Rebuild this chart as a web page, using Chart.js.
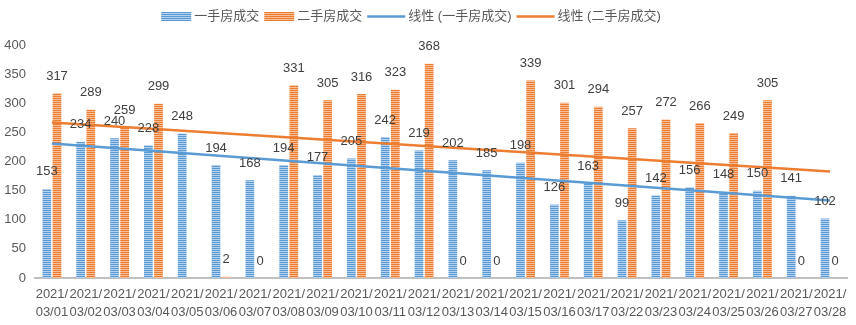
<!DOCTYPE html>
<html>
<head>
<meta charset="utf-8">
<script src="https://cdn.jsdelivr.net/npm/chart.js@4.4.0/dist/chart.umd.min.js"></script>
<style>
  html, body { margin: 0; padding: 0; background: #fff; }
  #wrap { position: relative; width: 856px; height: 325px; }
</style>
</head>
<body>
<div id="wrap"><canvas id="chart"></canvas></div>
<script>
// 数据
const dates = [
  '2021/03/01', '2021/03/02', '2021/03/03', '2021/03/04', '2021/03/05', '2021/03/06',
  '2021/03/07', '2021/03/08', '2021/03/09', '2021/03/10', '2021/03/11', '2021/03/12',
  '2021/03/13', '2021/03/14', '2021/03/15', '2021/03/16', '2021/03/17', '2021/03/22',
  '2021/03/23', '2021/03/24', '2021/03/25', '2021/03/26', '2021/03/27', '2021/03/28'
];
const firstHand = [153, 234, 240, 228, 248, 194, 168, 194, 177, 205, 242, 219,
                   202, 185, 198, 126, 163, 99, 142, 156, 148, 150, 141, 102];
const secondHand = [317, 289, 259, 299, null, 2, 0, 331, 305, 316, 323, 368,
                    0, 0, 339, 301, 294, 257, 272, 266, 249, 305, 0, 0];
// 趋势线两端的值
const firstTrend = [231, 133];
const secondTrend = [267, 183];

const seriesNames = ['一手房成交', '二手房成交', '线性 (一手房成交)', '线性 (二手房成交)'];

const BLUE = '#5B9BD5';
const ORANGE = '#ED7D31';
const FONT = '13px "Liberation Sans", "Noto Sans CJK SC", sans-serif';

// 横条纹填充
function stripes(color, light) {
  const c = document.createElement('canvas');
  c.width = 4; c.height = 2;
  const g = c.getContext('2d');
  g.fillStyle = light; g.fillRect(0, 0, 4, 2);
  g.fillStyle = color; g.fillRect(0, 0, 4, 1);
  return g.createPattern(c, 'repeat');
}
const bluePattern = stripes(BLUE, '#B4D0EC');
const orangePattern = stripes(ORANGE, '#F6BE98');

const trendPoints = vals => [
  { x: dates[0], y: vals[0] },
  { x: dates[dates.length - 1], y: vals[1] }
];

// 柱子上方的数值标签
const barLabels = {
  id: 'barLabels',
  afterDatasetsDraw(chart) {
    const ctx = chart.ctx;
    ctx.save();
    ctx.font = FONT;
    ctx.fillStyle = '#404040';
    ctx.textAlign = 'center';
    ctx.textBaseline = 'middle';
    [0, 1].forEach(i => {
      const meta = chart.getDatasetMeta(i);
      meta.data.forEach((bar, j) => {
        const v = chart.data.datasets[i].data[j];
        if (v === null || v === undefined) return;
        ctx.fillText(String(v), bar.x, bar.y - 17);
      });
    });
    ctx.restore();
  }
};

// 顶部图例
const topLegend = {
  id: 'topLegend',
  afterDraw(chart) {
    const ctx = chart.ctx;
    const items = [
      { text: seriesNames[0], bar: true, fill: bluePattern },
      { text: seriesNames[1], bar: true, fill: orangePattern },
      { text: seriesNames[2], bar: false, color: BLUE },
      { text: seriesNames[3], bar: false, color: ORANGE }
    ];
    ctx.save();
    ctx.font = FONT;
    const widths = items.map(it => (it.bar ? 30 : 38) + 3 + ctx.measureText(it.text).width);
    const total = widths.reduce((a, b) => a + b, 0) + 5 * (items.length - 1);
    let x = 411 - total / 2;
    const y = 16.5;
    items.forEach(it => {
      if (it.bar) {
        ctx.fillStyle = it.fill;
        ctx.fillRect(x, y - 4.5, 30, 9);
        x += 33;
      } else {
        ctx.strokeStyle = it.color;
        ctx.lineWidth = 2.5;
        ctx.beginPath();
        ctx.moveTo(x, y);
        ctx.lineTo(x + 38, y);
        ctx.stroke();
        x += 41;
      }
      ctx.fillStyle = '#595959';
      ctx.textAlign = 'left';
      ctx.textBaseline = 'middle';
      ctx.fillText(it.text, x, y);
      x += ctx.measureText(it.text).width + 5;
    });
    ctx.restore();
  }
};

const ctx = document.getElementById('chart').getContext('2d');
new Chart(ctx, {
  type: 'bar',
  data: {
    labels: dates,
    datasets: [
      {
        label: seriesNames[0],
        data: firstHand,
        backgroundColor: bluePattern,
        categoryPercentage: 0.6,
        barPercentage: 0.86,
        order: 1
      },
      {
        label: seriesNames[1],
        data: secondHand,
        backgroundColor: orangePattern,
        categoryPercentage: 0.6,
        barPercentage: 0.86,
        order: 1
      },
      {
        type: 'line',
        label: seriesNames[2],
        data: trendPoints(firstTrend),
        borderColor: BLUE,
        borderWidth: 2.5,
        pointRadius: 0,
        order: 0
      },
      {
        type: 'line',
        label: seriesNames[3],
        data: trendPoints(secondTrend),
        borderColor: ORANGE,
        borderWidth: 2.5,
        pointRadius: 0,
        order: 0
      }
    ]
  },
  options: {
    responsive: true,
    maintainAspectRatio: false,
    animation: false,
    layout: { padding: { top: 45, left: 4, right: 9, bottom: 0 } },
    plugins: {
      legend: { display: false },
      tooltip: { enabled: false }
    },
    scales: {
      x: {
        grid: { display: false, drawTicks: false },
        border: { display: true, color: '#BFBFBF', width: 2 },
        ticks: {
          autoSkip: false,
          maxRotation: 0,
          minRotation: 0,
          padding: 8,
          color: '#595959',
          font: { family: '"Liberation Sans", sans-serif', size: 13, lineHeight: 1.35 },
          callback(v) {
            const l = this.getLabelForValue(v);
            return [l.slice(0, 5), l.slice(5)];
          }
        },
        afterFit(s) { s.height = 47; }
      },
      y: {
        min: 0,
        max: 400,
        grid: { display: false, drawTicks: false },
        border: { display: false },
        ticks: {
          stepSize: 50,
          padding: 9,
          color: '#595959',
          font: { family: '"Liberation Sans", sans-serif', size: 13 }
        },
        afterFit(s) { s.width = 31; }
      }
    }
  },
  plugins: [barLabels, topLegend]
});
</script>
</body>
</html>
